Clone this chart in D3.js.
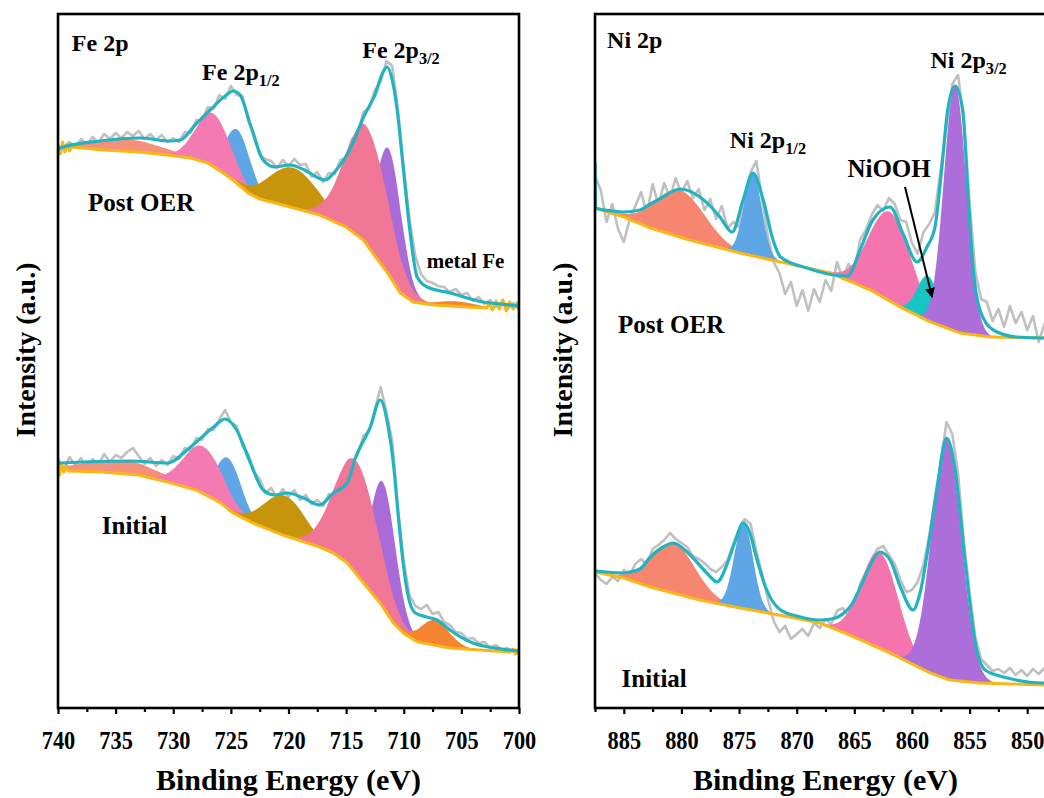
<!DOCTYPE html>
<html>
<head>
<meta charset="utf-8">
<script src="https://cdn.jsdelivr.net/npm/d3@7"></script>
<style>
  html, body { margin: 0; padding: 0; background: #ffffff; }
  svg { display: block; font-family: "Liberation Serif", "Times New Roman", serif; font-weight: bold; }
</style>
</head>
<body>
<svg id="chart" width="1044" height="798"></svg>
<script>
// ---------------- Data ----------------
// Axis ticks (binding energy, eV)
const feTicks = [740, 735, 730, 725, 720, 715, 710, 705, 700];
const feMinorTicks = [737.5, 732.5, 727.5, 722.5, 717.5, 712.5, 707.5, 702.5];
const niTicks = [885, 880, 875, 870, 865, 860, 855, 850];
const niMinorTicks = [887.5, 882.5, 877.5, 872.5, 867.5, 862.5, 857.5, 852.5, 847.5];

// Raw spectra, 0.5 eV steps, intensity in a.u.
const fePostRawStart = 740;
const fePostRaw = [56.3,55.8,56.6,56.0,56.9,56.3,57.1,56.5,57.4,56.9,
  57.5,57.0,57.6,57.2,57.7,56.9,57.4,56.8,57.3,56.6,
  57.0,56.6,57.6,57.5,58.8,58.7,60.1,59.9,61.3,60.9,
  62.2,61.3,61.2,58.7,57.4,55.3,54.9,54.7,54.0,54.8,
  54.2,54.9,54.3,54.4,53.1,53.6,52.6,53.5,53.4,54.8,
  55.0,56.9,57.4,59.6,60.0,61.8,62.6,64.7,64.2,59.8,
  53.9,48.9,45.2,43.4,42.7,42.5,42.2,42.1,41.6,41.9,
  41.3,41.5,40.7,41.1,40.4,40.8,40.1,40.6,39.9,40.5,39.8];
const feInitRawStart = 740;
const feInitRaw = [24.9,23.9,25.1,24.2,25.0,23.6,24.9,24.3,25.4,24.6,
  25.3,25.0,25.6,26.0,25.2,24.4,25.0,24.2,24.8,24.3,
  25.2,24.9,26.0,25.7,27.0,26.8,27.9,27.8,28.9,29.8,
  28.6,28.2,26.2,25.4,23.6,22.9,21.5,22.0,21.0,21.9,
  21.1,21.8,20.8,21.3,20.4,20.8,20.2,21.4,21.3,22.6,
  22.1,24.5,25.3,27.2,27.7,29.9,32.1,29.6,26.7,19.9,
  14.6,11.3,10.2,9.9,10.3,9.4,9.6,8.6,8.3,7.6,
  7.5,6.9,7.0,6.5,6.6,6.0,6.3,5.8,6.0,5.6,5.4];
const niPostRawStart = 887.5;
const niPostRaw = [53.2,51.8,48.6,50.4,47.9,46.6,48.8,50.2,51.6,49.4,
  52.4,50.3,52.5,51.0,53.0,51.4,52.7,51.0,51.9,49.8,
  50.9,48.9,50.2,48.0,48.6,48.1,50.9,53.6,54.7,50.9,
  47.2,44.6,43.5,41.4,42.6,40.2,41.8,39.7,41.9,40.6,
  42.8,41.7,44.6,42.9,44.4,43.6,46.8,47.8,49.3,50.3,
  49.7,51.0,50.4,48.8,48.6,46.5,45.4,47.6,48.4,49.6,
  53.9,58.2,62.4,63.3,58.9,50.6,43.6,40.9,40.6,38.7,
  39.9,38.1,40.2,38.5,39.6,37.8,39.2,36.6,38.4,37.2,38.0];
const niInitRawStart = 887.5;
const niInitRaw = [13.5,12.8,12.4,13.1,12.7,13.8,13.3,14.4,14.9,14.3,
  15.9,16.3,16.8,17.5,16.9,16.5,16.1,15.2,14.9,14.5,
  13.9,13.6,14.1,14.8,16.4,17.9,18.9,18.4,15.7,13.4,
  10.9,8.7,7.6,8.2,6.9,7.4,7.9,7.2,8.5,8.0,
  8.9,8.4,9.7,10.0,9.2,9.9,12.4,13.6,14.9,15.9,
  16.2,15.3,14.4,12.8,11.6,11.8,12.6,14.3,17.2,21.1,
  24.6,28.6,27.4,23.5,16.8,11.6,7.1,4.9,4.3,3.7,
  3.9,3.5,4.0,3.3,3.8,3.2,3.9,3.4,4.0,3.1,3.5];

// Shirley-type backgrounds, [energy, intensity]
const fePostBackground = [[740,56.3],[739.8,55.4],[739.6,56.6],[739.4,55.6],[739.2,56.4],[739.0,55.7],[738.8,56.1],
  [736.0,55.8],[733.0,55.6],[730.5,55.3],[728.5,55.0],[727.0,54.5],[725.8,53.6],[724.8,52.8],[723.5,51.5],
  [722.5,50.9],[720.5,50.3],[717.3,49.3],[715.0,48.1],[713.5,46.8],[712.7,45.5],[711.4,43.5],[710.3,41.5],
  [709.2,40.6],[707.4,40.3],[704.5,40.1],[702.8,40.0],[702.6,40.5],[702.3,39.8],[702.0,40.7],[701.7,39.9],
  [701.4,40.8],[701.1,39.7],[700.8,40.6],[700.5,39.9],[700.2,40.5],[700.0,40.1]];
const feInitBackground = [[740,25.0],[739.85,23.3],[739.7,24.4],[739.5,23.6],[739.3,24.1],[739.1,23.7],
  [736.2,23.6],[733.0,23.3],[730.5,22.6],[728.0,21.8],[726.0,20.6],[724.8,19.5],[723.1,18.5],[720.5,17.3],
  [717.3,16.1],[716.1,15.5],[714.9,14.5],[713.2,12.1],[712.05,10.5],[710.9,8.5],[710.05,7.5],[708.8,6.6],
  [706.0,6.0],[700.8,5.6],[700.5,5.9],[700.3,5.4],[700.15,5.8],[700,5.5]];
const niPostBackground = [[887.5,50.0],[885.0,49.1],[882.7,48.0],[879.3,46.8],[874.9,45.5],[871.4,44.6],
  [867.1,43.5],[863.6,41.8],[861.0,40.1],[858.4,38.6],[855.8,37.5],[853.2,37.1],[848.5,37.0],[847.5,37.0]];
const niInitBackground = [[887.5,13.6],[885.0,13.0],[882.7,12.1],[878.4,10.8],[874.9,10.0],[870.6,9.1],
  [868.0,8.5],[865.4,7.3],[861.9,5.5],[858.4,3.5],[856.7,2.8],[854.1,2.5],[848.5,2.3],[847.5,2.3]];

// Fit envelopes, [energy, intensity]
const fePostEnvelope = [[740,55.9],[739.8,56.0],[736.4,56.7],[732.9,57.0],[730.3,56.7],[729.4,56.8],[728.1,58.3],
  [726.8,59.8],[725.5,61.2],[724.8,61.7],[724.2,61.3],[723.3,58.3],[722.2,54.8],[721.2,54.1],[719.9,54.3],
  [718.6,53.8],[717.4,53.0],[716.8,52.8],[716.0,53.6],[714.7,55.8],[713.4,59.3],[712.5,61.3],[711.8,63.6],
  [711.45,64.1],[711.0,62.8],[710.57,59.8],[710.05,54.1],[709.44,47.5],[708.84,43.1],[707.97,42.1],
  [705.97,41.5],[703.11,40.6],[700.76,40.3],[700,40.2]];
const feInitEnvelope = [[740,24.4],[739.8,24.5],[733.75,24.7],[730.5,24.5],[728.5,26.1],[726.5,28.1],[725.5,28.9],
  [724.5,27.8],[723.3,24.5],[722.2,21.8],[721.2,21.3],[720.1,21.5],[718.7,21.0],[717.3,20.3],[716.1,21.5],
  [714.9,22.5],[714.2,25.0],[712.9,28.1],[712.05,30.8],[711.35,28.1],[710.9,24.5],[710.5,19.5],[710.05,14.5],
  [709.6,11.1],[709.0,9.5],[708.0,9.1],[707.1,8.8],[706.0,7.8],[704.0,6.5],[700.8,5.8],[700,5.7]];
const niPostEnvelope = [[887.5,54.6],[887.45,50.0],[886.0,49.7],[885.0,49.6],[883.6,49.8],[882.7,50.4],[881.9,50.9],
  [880.1,51.9],[878.4,51.1],[877.5,50.2],[876.6,49.0],[875.6,47.6],[874.65,50.8],[873.8,53.5],[872.9,50.8],
  [872.05,46.8],[871.4,45.1],[869.1,44.0],[866.8,43.3],[865.6,43.2],[864.5,45.8],[863.4,48.8],[861.9,50.1],
  [860.8,47.5],[859.55,44.6],[858.7,46.1],[858.0,48.1],[857.4,54.1],[856.9,59.8],[856.25,62.2],[855.6,59.8],
  [855.1,50.8],[854.7,44.1],[854.1,39.8],[852.95,37.8],[850.9,37.1],[848.5,37.0],[847.5,37.0]];
const niInitEnvelope = [[887.5,13.7],[885.0,13.5],[884.5,13.6],[883.6,13.9],[882.7,15.1],[881.6,16.1],[880.7,16.5],
  [879.25,15.3],[877.8,13.5],[876.9,12.6],[876.0,14.5],[875.3,16.8],[874.65,18.5],[874.0,17.3],[873.6,15.5],
  [872.6,11.8],[871.4,9.8],[870.0,9.2],[868.0,8.8],[867.0,8.9],[866.0,9.4],[865.2,10.4],[864.4,12.3],
  [863.6,14.3],[862.8,15.6],[861.9,14.8],[861.0,12.1],[859.9,9.8],[859.3,11.5],[858.4,17.5],[857.8,22.1],
  [857.0,27.0],[856.25,23.8],[855.4,14.8],[854.5,6.5],[853.65,3.8],[851.7,3.0],[848.5,2.5],[847.5,2.5]];

// Fitted components: [component, center (eV), height (a.u.), FWHM (eV)], listed in drawing order
const fePostPeaks = [["feSat2",734.0,1.2,7.0],["fe12b",724.4,5.4,2.6],["fe12",726.5,5.3,3.5],
  ["feSat1",719.6,4.0,5.0],["fe32b",711.3,12.6,2.6],["fe32",713.2,11.8,4.4],["feMetal",705.5,0.5,4.0]];
const feInitPeaks = [["feSat2",734.5,1.3,8.0],["fe12b",725.2,5.1,2.6],["fe12",727.4,4.7,4.0],
  ["feSat1",720.3,4.0,4.2],["fe32b",711.8,12.5,2.6],["fe32",714.1,11.3,4.4],["feMetal",707.3,2.5,3.0]];
const niPostPeaks = [["niSat",880.1,4.7,5.0],["ni12",873.8,8.3,1.8],["niSat32",861.9,8.9,4.3],
  ["niOOH",858.6,4.5,2.2],["ni32",856.25,24.6,2.3]];
const niInitPeaks = [["niSat",880.7,5.0,4.5],["ni12",874.6,8.6,1.9],["niSat32",862.8,9.6,3.8],
  ["ni32",857.0,24.0,3.0]];

// Text
const feTitle = "Fe 2p";
const niTitle = "Ni 2p";
const sampleNames = ["Post OER", "Initial"];
const xTitle = "Binding Energy (eV)";
const yTitle = "Intensity (a.u.)";

// ---------------- Styles ----------------
const peakColors = {
  feSat2: "#F4907B", fe12: "#F47AB2", fe12b: "#5EA6E6", feSat1: "#C7950C",
  fe32: "#F07896", fe32b: "#A86BD7", feMetal: "#F4842F",
  niSat: "#F6866F", ni12: "#5EA6E6", niSat32: "#F475AE", niOOH: "#17C6C3", ni32: "#AC6ED9"
};
const rawColor = "#C0C0C0";
const bgColor = "#FBB515";
const envColor = "#21B4C0";

// ---------------- Layout ----------------
const TOP = 14, BOTTOM = 708, PW = 461;
const svg = d3.select("#chart");
const defs = svg.append("defs");
defs.append("marker").attr("id", "arrowhead").attr("viewBox", "0 0 10 10")
  .attr("refX", 9).attr("refY", 5).attr("markerWidth", 5).attr("markerHeight", 5)
  .attr("orient", "auto")
  .append("path").attr("d", "M0,0 L10,5 L0,10 z").attr("fill", "#000");

const y = d3.scaleLinear().domain([0, 69.4]).range([BOTTOM, TOP]);
const gauss = (E, p) => p[2] * Math.exp(-4 * Math.LN2 * ((E - p[1]) / p[3]) ** 2);

function drawSpectrum(g, x, s, domain) {
  const bg = d3.scaleLinear()
    .domain(s.background.map(d => d[0]))
    .range(s.background.map(d => d[1]))
    .clamp(true);
  const n = Math.round((domain[0] - domain[1]) / 0.05);
  const grid = d3.range(n + 1).map(i => domain[0] - i * 0.05);

  // measured counts
  g.append("path").datum(s.raw)
    .attr("d", d3.line().x((v, i) => x(s.rawStart - 0.5 * i)).y(v => y(v)))
    .attr("fill", "none").attr("stroke", rawColor).attr("stroke-width", 2.6)
    .attr("stroke-linejoin", "round");

  // fitted components sitting on the background
  s.peaks.forEach(p => {
    const pts = grid.filter(E => Math.abs(E - p[1]) <= 2.6 * p[3]);
    g.append("path").datum(pts)
      .attr("d", d3.area().x(E => x(E)).y0(E => y(bg(E))).y1(E => y(bg(E) + gauss(E, p))))
      .attr("fill", peakColors[p[0]]);
  });

  // background
  g.append("path").datum(grid)
    .attr("d", d3.line().x(E => x(E)).y(E => y(bg(E))))
    .attr("fill", "none").attr("stroke", bgColor).attr("stroke-width", 3)
    .attr("stroke-linejoin", "round");

  // envelope
  g.append("path").datum(s.envelope)
    .attr("d", d3.line().curve(d3.curveMonotoneX).x(d => x(d[0])).y(d => y(d[1])))
    .attr("fill", "none").attr("stroke", envColor).attr("stroke-width", 3.2)
    .attr("stroke-linejoin", "round");
}

function addLabel(g, px, py, main, sub, size) {
  const t = g.append("text").attr("x", px).attr("y", py)
    .attr("font-size", size).attr("fill", "#000").text(main);
  if (sub) {
    t.append("tspan").attr("dy", 6).attr("font-size", size * 0.68).text(sub);
  }
}

function drawPanel(cfg) {
  const x = d3.scaleLinear().domain(cfg.domain).range([cfg.left, cfg.left + PW]);
  const g = svg.append("g");
  const clipId = "clip-" + cfg.id;
  defs.append("clipPath").attr("id", clipId).append("rect")
    .attr("x", cfg.left).attr("y", TOP).attr("width", PW).attr("height", BOTTOM - TOP);
  const plot = g.append("g").attr("clip-path", `url(#${clipId})`);
  cfg.spectra.forEach(s => drawSpectrum(plot, x, s, cfg.domain));

  // frame
  g.append("rect").attr("x", cfg.left).attr("y", TOP).attr("width", PW).attr("height", BOTTOM - TOP)
    .attr("fill", "none").attr("stroke", "#000").attr("stroke-width", 2.6);

  // bottom axis: major and minor ticks
  const major = d3.axisBottom(x).tickValues(cfg.ticks).tickSize(6).tickPadding(17)
    .tickFormat(d3.format("d"));
  const ga = g.append("g").attr("transform", `translate(0,${BOTTOM})`).call(major);
  ga.attr("font-family", null).attr("font-size", 26).attr("font-weight", "bold");
  ga.select(".domain").remove();
  ga.selectAll(".tick line").attr("stroke", "#000").attr("stroke-width", 2.2);
  // slightly condensed numerals
  ga.selectAll(".tick text").attr("fill", "#000").attr("transform", "scale(0.86,1)");

  const minor = d3.axisBottom(x).tickValues(cfg.minor).tickSize(4).tickFormat("");
  const gm = g.append("g").attr("transform", `translate(0,${BOTTOM})`).call(minor);
  gm.select(".domain").remove();
  gm.selectAll(".tick line").attr("stroke", "#000").attr("stroke-width", 2.2);

  // axis titles
  g.append("text").attr("x", cfg.left + PW / 2).attr("y", 790)
    .attr("text-anchor", "middle").attr("font-size", 30).attr("fill", "#000").text(xTitle);
  g.append("text").attr("transform", `translate(${cfg.yTitleX},350) rotate(-90)`)
    .attr("text-anchor", "middle").attr("dy", "0.35em")
    .attr("font-size", 28).attr("fill", "#000").text(yTitle);

  // annotations placed in data coordinates
  cfg.labels.forEach(l => addLabel(g, x(l.E), y(l.v), l.text, l.sub, l.size));
  if (cfg.arrow) {
    const a = cfg.arrow;
    g.append("line")
      .attr("x1", x(a[0][0])).attr("y1", y(a[0][1]))
      .attr("x2", x(a[1][0])).attr("y2", y(a[1][1]))
      .attr("stroke", "#000").attr("stroke-width", 2).attr("marker-end", "url(#arrowhead)");
  }
}

drawPanel({
  id: "fe", domain: [740, 700], left: 58, ticks: feTicks, minor: feMinorTicks, yTitleX: 25,
  spectra: [
    { raw: fePostRaw, rawStart: fePostRawStart, background: fePostBackground, envelope: fePostEnvelope, peaks: fePostPeaks },
    { raw: feInitRaw, rawStart: feInitRawStart, background: feInitBackground, envelope: feInitEnvelope, peaks: feInitPeaks }
  ],
  labels: [
    { E: 738.8, v: 65.7, text: feTitle, size: 24 },
    { E: 727.5, v: 62.8, text: "Fe 2p", sub: "1/2", size: 24 },
    { E: 713.6, v: 65.0, text: "Fe 2p", sub: "3/2", size: 24 },
    { E: 737.4, v: 49.7, text: sampleNames[0], size: 25 },
    { E: 708.0, v: 44.0, text: "metal Fe", size: 21 },
    { E: 736.2, v: 17.4, text: sampleNames[1], size: 25 }
  ]
});

drawPanel({
  id: "ni", domain: [887.5, 847.5], left: 595, ticks: niTicks, minor: niMinorTicks, yTitleX: 562,
  spectra: [
    { raw: niPostRaw, rawStart: niPostRawStart, background: niPostBackground, envelope: niPostEnvelope, peaks: niPostPeaks },
    { raw: niInitRaw, rawStart: niInitRawStart, background: niInitBackground, envelope: niInitEnvelope, peaks: niInitPeaks }
  ],
  labels: [
    { E: 886.45, v: 66.0, text: niTitle, size: 24 },
    { E: 875.8, v: 56.0, text: "Ni 2p", sub: "1/2", size: 24 },
    { E: 858.4, v: 64.0, text: "Ni 2p", sub: "3/2", size: 24 },
    { E: 865.6, v: 53.1, text: "NiOOH", size: 25 },
    { E: 885.5, v: 37.5, text: sampleNames[0], size: 25 },
    { E: 885.2, v: 2.1, text: sampleNames[1], size: 25 }
  ],
  arrow: [[860.6, 52.1], [858.25, 41.1]]
});
</script>
</body>
</html>
